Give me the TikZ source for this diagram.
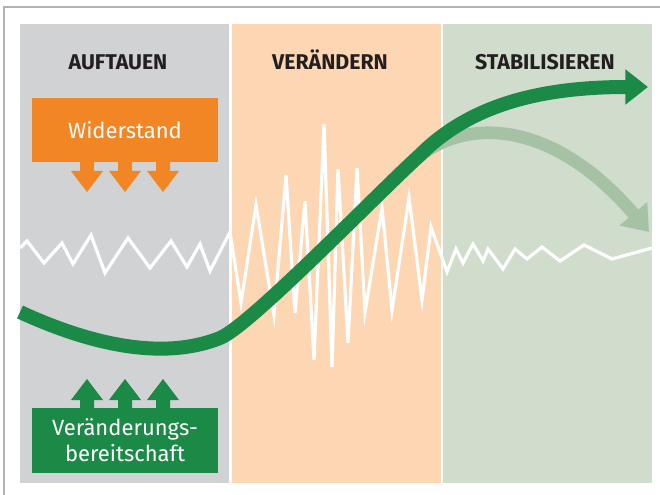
\documentclass[tikz,border=0pt]{standalone}
\usepackage{fontspec}
\setmainfont{Fira Sans}
\usetikzlibrary{arrows.meta}
\definecolor{panelgray}{HTML}{D1D2D4}
\definecolor{panelorange}{HTML}{FDD6B3}
\definecolor{panelgreen}{HTML}{D1DDCC}
\definecolor{boxorange}{HTML}{F28524}
\definecolor{boxgreen}{HTML}{1B8A47}
\definecolor{fadegreen}{HTML}{A5C3A4}
\definecolor{titlegray}{HTML}{231F20}

\begin{document}
\begin{tikzpicture}[x=0.75pt,y=-0.75pt,
    phase/.style={font=\bfseries\fontsize{16}{19}\selectfont, text=titlegray, anchor=base},
    forcebox/.style={text=white, align=center, inner sep=0pt,
      minimum width=139.5pt, font=\fontsize{16.5}{19.5}\selectfont}]
    \useasboundingbox (0,0) rectangle (660,495);
    \draw[gray!60, line width=1.2pt] (4,495) -- (4,7) -- (660,7);

    % phases
    \fill[panelgray] (20,24) rectangle (229,483);
    \fill[panelorange] (232,24) rectangle (441,483);
    \fill[panelgreen] (443,24) rectangle (652,483);
    \node[phase] (thaw) at (118,70) {AUFTAUEN};
    \node[phase] (change) at (330,70) {VERÄNDERN};
    \node[phase] (freeze) at (545,70) {STABILISIEREN};

    % unrest
    \draw[white, line width=2.4pt] plot coordinates {
      (20,248) (27,241) (44,263) (62,243) (73,264) (91,235) (105,273)
      (128,238) (150,268) (171,241) (187,267) (200,244) (210,271)
      (230,232) (241,303) (256,205) (274,315) (286,175) (295,313)
      (305,201) (314,360) (324,124) (332,367) (338,169) (348,343)
      (357,168) (365,312) (382,208) (392,310) (409,198) (422,300)
      (431,227) (447,272) (456,249) (463,263) (473,244) (483,261)
      (488,249) (503,269) (515,249) (527,259) (542,247) (560,261)
      (584,245) (612,259) (652,248)};

    % forces
    \node[forcebox, fill=boxorange, minimum height=48pt] (resist) at (125,130) {Widerstand};
    \node[forcebox, fill=boxgreen, minimum height=48.75pt] (ready) at (125,440.5)
      {Veränderungs-\\bereitschaft};
    \foreach \ax in {87,125,163} {
      \fill[boxorange] ({\ax-7},161) -- ({\ax+7},161) -- ({\ax+7},171) -- ({\ax+16},171)
        -- (\ax,192) -- ({\ax-16},171) -- ({\ax-7},171) -- cycle;
      \fill[boxgreen] ({\ax-7},409) -- ({\ax+7},409) -- ({\ax+7},400) -- ({\ax+16},400)
        -- (\ax,379) -- ({\ax-16},400) -- ({\ax-7},400) -- cycle;
    }

    % curves
    \draw[fadegreen, line width=9.5pt, -{Triangle[length=18pt,width=26pt]}]
      (405,170) .. controls (450,118) and (545,110) .. (649,232);
    \draw[boxgreen, line width=10.5pt, -{Triangle[length=17pt,width=25.5pt]}]
      (20,312) .. controls (85,342) and (160,362) .. (220,338)
      .. controls (250,326) and (380,191) .. (420,155)
      .. controls (470,105) and (540,87) .. (648,87);
\end{tikzpicture}
\end{document}
